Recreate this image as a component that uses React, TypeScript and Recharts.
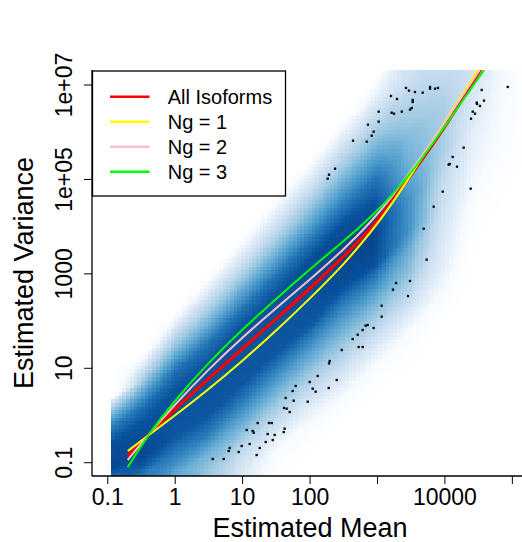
import React from 'react';
import { ComposedChart, XAxis, YAxis, Line, Scatter } from 'recharts';

// ---------- axes (values are log10 of the real quantities) ----------
const xTickValues = [-1, 0, 1, 2, 3, 4, 5];
const xTickLabels = ['0.1', '1', '10', '100', '', '10000', ''];
const yTickValues = [-1, 1, 3, 5, 7];
const yTickLabels = ['0.1', '10', '1000', '1e+05', '1e+07'];

// ---------- fitted curves (log10 mean, log10 variance) ----------
const seriesNames = ['All Isoforms', 'Ng = 1', 'Ng = 2', 'Ng = 3'];
const seriesColors = ['#FF0000', '#FFFF00', '#FFC0CB', '#00FF00'];

const allIsoformsMean = [-0.704, -0.423, 0.0, 0.5, 1.0, 1.5, 2.0, 2.5, 2.874, 3.22, 3.6, 3.927, 4.224, 4.505, 4.62];
const allIsoformsVar = [-0.858, -0.449, 0.14, 0.79, 1.42, 2.05, 2.69, 3.37, 3.9, 4.55, 5.3, 5.96, 6.62, 7.27, 7.54];

const ng1Mean = [-0.704, -0.423, 0.0, 0.5, 1.0, 1.5, 2.0, 2.5, 2.9, 3.2, 3.6, 4.0, 4.471, 4.58];
const ng1Var = [-0.752, -0.449, 0.004, 0.56, 1.16, 1.8, 2.48, 3.2, 3.87, 4.45, 5.32, 6.22, 7.28, 7.53];

const ng2Mean = [-0.704, -0.423, 0.0, 0.5, 1.0, 1.5, 2.0, 2.5, 2.9, 3.2, 3.6, 4.0, 4.513, 4.63];
const ng2Var = [-0.943, -0.449, 0.24, 0.99, 1.66, 2.28, 2.88, 3.515, 4.095, 4.605, 5.37, 6.21, 7.31, 7.56];

const ng3Mean = [-0.704, -0.423, 0.0, 0.5, 1.0, 1.5, 2.0, 2.5, 2.741, 3.0, 3.151, 3.556, 3.9, 4.246, 4.554, 4.67];
const ng3Var = [-1.097, -0.449, 0.33, 1.13, 1.83, 2.48, 3.1, 3.7, 3.99, 4.35, 4.56, 5.236, 5.924, 6.63, 7.265, 7.505];

// ---------- outlier points (log10 mean, log10 variance) ----------
const outlierMean = [
  3.062, 3.062, 2.825, 2.854, 2.78, 2.943, 2.706, 2.632, 2.721, 2.78,
  2.469, 2.291, 2.281, 2.113, 1.994, 2.395, 1.742, 1.787, 2.039, 2.083,
  2.276, 1.638, 1.757, 1.965, 1.614, 1.653, 1.698, 1.223, 1.391, 1.431,
  1.06, 1.149, 1.164, 1.623, 1.609, 1.371, 1.475, 1.446, 1.342, 1.104,
  0.986, 0.808, 0.793, 1.253, 0.941, 1.208, 0.556, 0.719, 3.482, 3.275,
  3.23, 3.453, 3.423, 3.467, 3.556, 3.67, 3.779, 3.779, 3.853, 3.897,
  3.2, 3.289, 3.522, 3.522, 3.017, 3.21, 3.245, 3.359, 3.482, 3.507,
  3.017, 2.859, 2.943, 2.914, 2.84, 2.637, 2.37, 2.281, 2.261, 4.545,
  4.931, 4.58, 4.471, 4.476, 4.52, 4.412, 4.446, 4.387, 4.278, 4.115,
  4.071, 4.056, 4.179, 3.967, 4.382, 3.833, 3.685, 3.729,
];
const outlierVar = [
  2.326, 2.093, 1.903, 1.917, 1.811, 1.853, 1.712, 1.62, 1.451, 1.451,
  1.387, 1.154, 1.105, 0.837, 0.71, 0.752, 0.519, 0.625, 0.568, 0.505,
  0.583, 0.371, 0.314, 0.293, 0.159, 0.145, 0.074, -0.159, -0.159, -0.159,
  -0.307, -0.328, -0.364, -0.279, -0.35, -0.392, -0.413, -0.519, -0.561, -0.604,
  -0.646, -0.688, -0.752, -0.688, -0.773, -0.837, -0.921, -0.921, 2.849, 2.807,
  2.665, 2.531, 6.937, 6.881, 6.852, 6.838, 6.958, 6.923, 6.923, 6.937,
  6.768, 6.704, 6.683, 6.64, 6.436, 6.414, 6.393, 6.436, 6.478, 6.513,
  6.224, 6.16, 6.012, 5.927, 5.8, 5.821, 5.228, 5.101, 5.017, 6.895,
  6.958, 6.669, 6.626, 6.598, 6.556, 6.436, 6.393, 6.287, 5.673, 5.476,
  5.327, 5.313, 5.271, 4.741, 4.805, 4.423, 3.957, 3.301,
];

// ---------- smoothed density, read column by column ----------
const densityColumnMean = [-0.939, -0.494, 0, 0.494, 0.989, 1.483, 1.977, 2.472, 2.966, 3.46, 3.955, 4.449, 4.943, 5.141];
const densityColumnCenter = [-0.85, -0.5, 0.05, 0.55, 1.28, 1.92, 2.55, 3.26, 3.79, 4.4, 5.05, 5.7, 6.35, 6.6];
const densityProfiles: number[][][] = [
  [[-1.3, 7.2], [-1.1, 8.3], [-0.55, 8], [-0.2, 6.5], [0.12, 4], [0.33, 2], [0.4, 0]],
  [[-1.3, 6.5], [-1.1, 7.7], [-0.9, 8.3], [-0.17, 8], [0.19, 7], [0.54, 5], [0.89, 3], [1.2, 1], [1.35, 0]],
  [[-1.3, 5], [-0.8, 6.7], [-0.45, 7.8], [0.54, 8], [0.96, 7], [1.32, 5], [1.74, 3], [2.1, 1], [2.3, 0]],
  [[-1.3, 3.8], [-0.8, 4.8], [-0.38, 6.7], [0.0, 7.8], [1.1, 8], [1.53, 7], [1.95, 5], [2.45, 3], [2.85, 1], [3.0, 0]],
  [[-1.3, 2], [-0.73, 3], [-0.17, 5], [0.33, 6.8], [0.68, 7.8], [1.88, 8], [2.24, 7], [2.69, 5], [3.15, 3], [3.65, 1], [3.8, 0]],
  [[-1.3, 0.3], [-0.73, 1], [-0.1, 3], [0.54, 5], [1.03, 6.8], [1.32, 7.8], [2.52, 8], [2.94, 7], [3.4, 5], [3.93, 3], [4.49, 1], [4.65, 0]],
  [[-0.8, 0], [-0.17, 1], [0.54, 3], [1.18, 5], [1.67, 6.8], [1.88, 7.8], [3.22, 8.2], [3.65, 7], [4.14, 5], [4.71, 3], [5.27, 1], [5.45, 0]],
  [[-0.2, 0], [0.38, 1], [1.1, 3], [1.85, 5], [2.45, 7], [2.7, 8], [3.4, 8.4], [4.07, 8], [4.35, 7], [4.92, 5], [5.55, 3], [6.12, 1], [6.3, 0]],
  [[0.4, 0], [1.07, 1], [1.77, 3], [2.45, 5], [3.0, 7], [3.2, 8], [3.85, 8.4], [4.49, 8], [4.99, 7], [5.62, 5], [6.33, 3], [6.97, 1], [7.2, 0]],
  [[0.9, 0], [1.77, 1], [2.47, 3], [3.0, 4.3], [3.5, 5], [3.9, 6], [4.6, 6], [5.2, 5], [5.9, 4.5], [6.6, 3.5], [7.32, 2.5]],
  [[1.9, 0], [2.47, 0.8], [3.1, 1.8], [4.2, 2.6], [4.9, 3], [5.6, 3.8], [6.4, 3.8], [7.32, 3]],
  [[3.2, 0], [3.8, 0.2], [4.7, 0.8], [5.5, 1.5], [6.6, 2], [7.32, 2.5]],
  [[4.5, 0], [5.2, 0.3], [6.0, 0.8], [7.32, 1]],
  [[5.0, 0], [6.0, 0.4], [7.32, 0.5]],
];
const densityPalette = ['#FFFFFF', '#F7FBFF', '#DEEBF7', '#C6DBEF', '#9ECAE1', '#6BAED6', '#4292C6', '#2171B5', '#08519C', '#08306B'];

// ---------- layout ----------
const X_MIN = -1.234, X_MAX = 5.232, Y_MIN = -1.2815, Y_MAX = 7.318;
const IMG_X0 = -0.947;
const CHART_W = 530, CHART_H = 542;
const Y_AXIS_W = 92, X_AXIS_H = 66, TOP = 70, RIGHT = 2;
const PLOT_W = CHART_W - Y_AXIS_W - RIGHT;
const PLOT_H = CHART_H - TOP - X_AXIS_H;
const CELL_DX = 0.055, CELL_DY = 0.078;
const CELL_W = (CELL_DX * PLOT_W) / (X_MAX - X_MIN);
const CELL_H = (CELL_DY * PLOT_H) / (Y_MAX - Y_MIN);
const FONT = '"Liberation Sans", Arial, Helvetica, sans-serif';

// ---------- build tables ----------
const zip = (xs: number[], ys: number[]) => xs.map((x, i) => ({ lx: x, ly: ys[i] }));
const seriesData = [
  zip(allIsoformsMean, allIsoformsVar),
  zip(ng1Mean, ng1Var),
  zip(ng2Mean, ng2Var),
  zip(ng3Mean, ng3Var),
];
const outlierData = zip(outlierMean, outlierVar);

const hexRgb = (h: string) => [parseInt(h.slice(1, 3), 16), parseInt(h.slice(3, 5), 16), parseInt(h.slice(5, 7), 16)];
const paletteRgb = densityPalette.map(hexRgb);
const levelColor = (v: number) => {
  const c = Math.max(0, Math.min(8.999, v));
  const i = Math.floor(c);
  const t = c - i;
  const a = paletteRgb[i], b = paletteRgb[i + 1];
  const m = a.map((q, k) => Math.round(q + (b[k] - q) * t));
  return `rgb(${m[0]},${m[1]},${m[2]})`;
};
const profileAt = (p: number[][], y: number) => {
  if (y <= p[0][0]) return p[0][1];
  const n = p.length - 1;
  if (y >= p[n][0]) return p[n][1];
  for (let i = 0; i < n; i++) {
    if (y >= p[i][0] && y <= p[i + 1][0]) {
      const t = (y - p[i][0]) / (p[i + 1][0] - p[i][0]);
      return p[i][1] + (p[i + 1][1] - p[i][1]) * t;
    }
  }
  return 0;
};
const densityAt = (lx: number, ly: number) => {
  const cols = densityColumnMean;
  if (lx <= cols[0]) return profileAt(densityProfiles[0], ly);
  const last = cols.length - 1;
  if (lx >= cols[last]) return profileAt(densityProfiles[last], ly);
  let k = 0;
  while (k < last - 1 && lx > cols[k + 1]) k++;
  const t = (lx - cols[k]) / (cols[k + 1] - cols[k]);
  const c0 = densityColumnCenter[k], c1 = densityColumnCenter[k + 1];
  const c = c0 + (c1 - c0) * t;
  const v0 = profileAt(densityProfiles[k], ly - c + c0);
  const v1 = profileAt(densityProfiles[k + 1], ly - c + c1);
  return v0 * (1 - t) + v1 * t;
};
const densityCells: { lx: number; ly: number; fill: string }[] = [];
for (let i = 0; IMG_X0 + (i + 0.5) * CELL_DX < X_MAX + CELL_DX / 2; i++) {
  const lx = IMG_X0 + (i + 0.5) * CELL_DX;
  for (let j = 0; Y_MIN + (j + 0.5) * CELL_DY < Y_MAX + CELL_DY / 2; j++) {
    const ly = Y_MIN + (j + 0.5) * CELL_DY;
    const v = densityAt(lx, ly);
    if (v < 0.12) continue;
    densityCells.push({ lx, ly, fill: levelColor(v) });
  }
}

// ---------- shapes ----------
const CellShape = (p: any) => (
  <rect x={p.cx - CELL_W / 2} y={p.cy - CELL_H / 2} width={CELL_W + 0.6} height={CELL_H + 0.6}
    fill={p.payload.fill} shapeRendering="crispEdges" />
);
const DotShape = (p: any) => (
  <rect x={p.cx - 1.15} y={p.cy - 1.15} width={2.3} height={2.3} fill="#000" />
);

const XTick = (p: any) => {
  const idx = xTickValues.indexOf(p.payload.value);
  return (
    <text x={p.x} y={505} textAnchor="middle" fontSize={23} fontFamily={FONT} fill="#000">
      {idx >= 0 ? xTickLabels[idx] : ''}
    </text>
  );
};
const YTick = (p: any) => {
  const idx = yTickValues.indexOf(p.payload.value);
  const x = 72;
  return (
    <text x={x} y={p.y} transform={`rotate(-90, ${x}, ${p.y})`} textAnchor="middle"
      fontSize={23} fontFamily={FONT} fill="#000">
      {idx >= 0 ? yTickLabels[idx] : ''}
    </text>
  );
};

const cx = Y_AXIS_W + PLOT_W / 2;
const cy = TOP + PLOT_H / 2;

export default function App() {
  const anyZ: any = {};
  return (
    <div style={{ position: 'absolute', left: 0, top: 0, width: 522, height: 542, overflow: 'hidden', background: '#fff' }}>
      <ComposedChart width={CHART_W} height={CHART_H} margin={{ top: TOP, right: RIGHT, bottom: 0, left: 0 }}>
        <Scatter data={densityCells} shape={CellShape} isAnimationActive={false} {...anyZ} zIndex={50} />
        {seriesData.map((d, i) => (
          <Line key={seriesNames[i]} data={d} dataKey="ly" name={seriesNames[i]} type="basis"
            stroke={seriesColors[i]} strokeWidth={i === 0 ? 3.3 : 2} dot={false} activeDot={false}
            isAnimationActive={false} {...anyZ} zIndex={700 + i} />
        ))}
        <Scatter data={outlierData} shape={DotShape} isAnimationActive={false} {...anyZ} zIndex={800} />
        <XAxis dataKey="lx" type="number" domain={[X_MIN, X_MAX]} allowDataOverflow ticks={xTickValues}
          interval={0} height={X_AXIS_H} tickSize={8} tick={<XTick />}
          axisLine={{ stroke: '#000', strokeWidth: 1.3 }} tickLine={{ stroke: '#000' }}
          label={{ content: () => (
            <text x={cx} y={537} textAnchor="middle" fontSize={27} fontFamily={FONT} fill="#000">Estimated Mean</text>
          ) }} />
        <XAxis xAxisId="top" orientation="top" dataKey="lx" type="number" domain={[X_MIN, X_MAX]} allowDataOverflow
          height={0} tick={false} tickLine={false} axisLine={{ stroke: '#000', strokeWidth: 1.3 }}
          label={{ content: () => (
            <text x={cx} y={32} textAnchor="middle" fontSize={31} fontFamily={FONT} fill="#000">RSEM</text>
          ) }} />
        <YAxis dataKey="ly" type="number" domain={[Y_MIN, Y_MAX]} allowDataOverflow ticks={yTickValues}
          interval={0} width={Y_AXIS_W} tickSize={8} tick={<YTick />}
          axisLine={{ stroke: '#000', strokeWidth: 1.3 }} tickLine={{ stroke: '#000' }}
          label={{ content: () => (
            <text x={33} y={cy} transform={`rotate(-90, 33, ${cy})`} textAnchor="middle" fontSize={27}
              fontFamily={FONT} fill="#000">Estimated Variance</text>
          ) }} />
      </ComposedChart>
      <svg width={522} height={542} style={{ position: 'absolute', left: 0, top: 0, pointerEvents: 'none' }}>
        <rect x={92.5} y={71} width={193} height={125} fill="#fff" stroke="#000" strokeWidth={1.3} />
        {seriesNames.map((n, i) => {
          const y = 96.7 + i * 25;
          return (
            <g key={n}>
              <line x1={110} x2={149.5} y1={y} y2={y} stroke={seriesColors[i]} strokeWidth={2.5} />
              <text x={167.7} y={y + 7.3} fontSize={20} fontFamily={FONT} fill="#000">{n}</text>
            </g>
          );
        })}
      </svg>
    </div>
  );
}
